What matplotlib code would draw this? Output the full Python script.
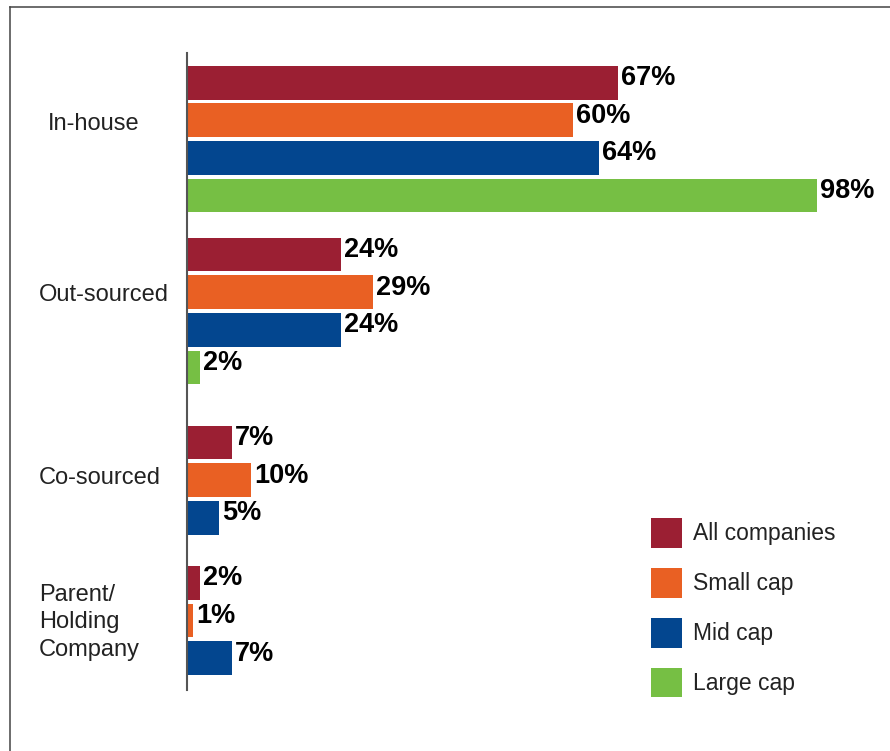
import matplotlib
matplotlib.use("Agg")
import matplotlib.pyplot as plt
from matplotlib.patches import Patch
from matplotlib.lines import Line2D
import matplotlib.transforms as mtransforms

# --- data -------------------------------------------------------------
categories = ["In-house", "Out-sourced", "Co-sourced", "Parent/\nHolding\nCompany"]
series_names = ["All companies", "Small cap", "Mid cap", "Large cap"]
all_companies = [67, 24, 7, 2]
small_cap = [60, 29, 10, 1]
mid_cap = [64, 24, 5, 7]
large_cap = [98, 2, None, None]
series_values = [all_companies, small_cap, mid_cap, large_cap]
colors = ["#9B1F33", "#E96023", "#03468F", "#76BF44"]

# --- layout (in bar-slot units along y) --------------------------------
group_start = [0.0, 4.57, 9.57, 13.30]
label_y = [1.1, 5.65, 10.5, 14.35]
label_x_px = [48, 39, 39, 39]
bar_height = 0.896

W, H = 890, 751
fig = plt.figure(figsize=(W / 100, H / 100), dpi=100)
ax = fig.add_axes([187 / W, 1 - 690 / H, 643 / W, (690 - 53) / H])

for s, (vals, col) in enumerate(zip(series_values, colors)):
    for g, v in enumerate(vals):
        if v is None:
            continue
        y = group_start[g] + s
        ax.barh(y, v, height=bar_height, color=col, edgecolor="none")
        ax.annotate(f"{v}%", xy=(v, y), xytext=(3, -2.5),
                    textcoords="offset pixels", ha="left", va="baseline",
                    fontsize=19.5, fontweight="bold", color="black",
                    family="Liberation Sans")

ax.set_xlim(0, 100)
ax.set_ylim(16.15, -0.79)
for side in ("top", "right", "bottom"):
    ax.spines[side].set_visible(False)
ax.spines["left"].set_color("#555555")
ax.spines["left"].set_linewidth(1.5)
ax.set_xticks([])
ax.set_yticks([])

# category labels: x in figure space, y in data space
trans = mtransforms.blended_transform_factory(fig.transFigure, ax.transData)
for lab, ly, lx in zip(categories, label_y, label_x_px):
    ax.text(lx / W, ly, lab, transform=trans, ha="left", va="center",
            fontsize=17, color="#222222", family="Liberation Sans",
            linespacing=1.33)

# legend
handles = [Patch(facecolor=c, edgecolor="none") for c in colors]
leg = fig.legend(handles, series_names, loc="upper left",
                 bbox_to_anchor=(651 / W, 1 - 518 / H),
                 frameon=False, borderpad=0, borderaxespad=0,
                 handlelength=1.35, handleheight=1.62, handletextpad=0.48,
                 labelspacing=0.88,
                 prop={"family": "Liberation Sans", "size": 16.5})
for t in leg.get_texts():
    t.set_color("#222222")

# outer frame (left and top edges)
fig.add_artist(Line2D([10 / W, 10 / W], [0, 1 - 6.7 / H],
                      transform=fig.transFigure, color="#444444", lw=1.1))
fig.add_artist(Line2D([10 / W, 1], [1 - 6.7 / H, 1 - 6.7 / H],
                      transform=fig.transFigure, color="#444444", lw=1.1))

fig.savefig("out.png", dpi=100)
